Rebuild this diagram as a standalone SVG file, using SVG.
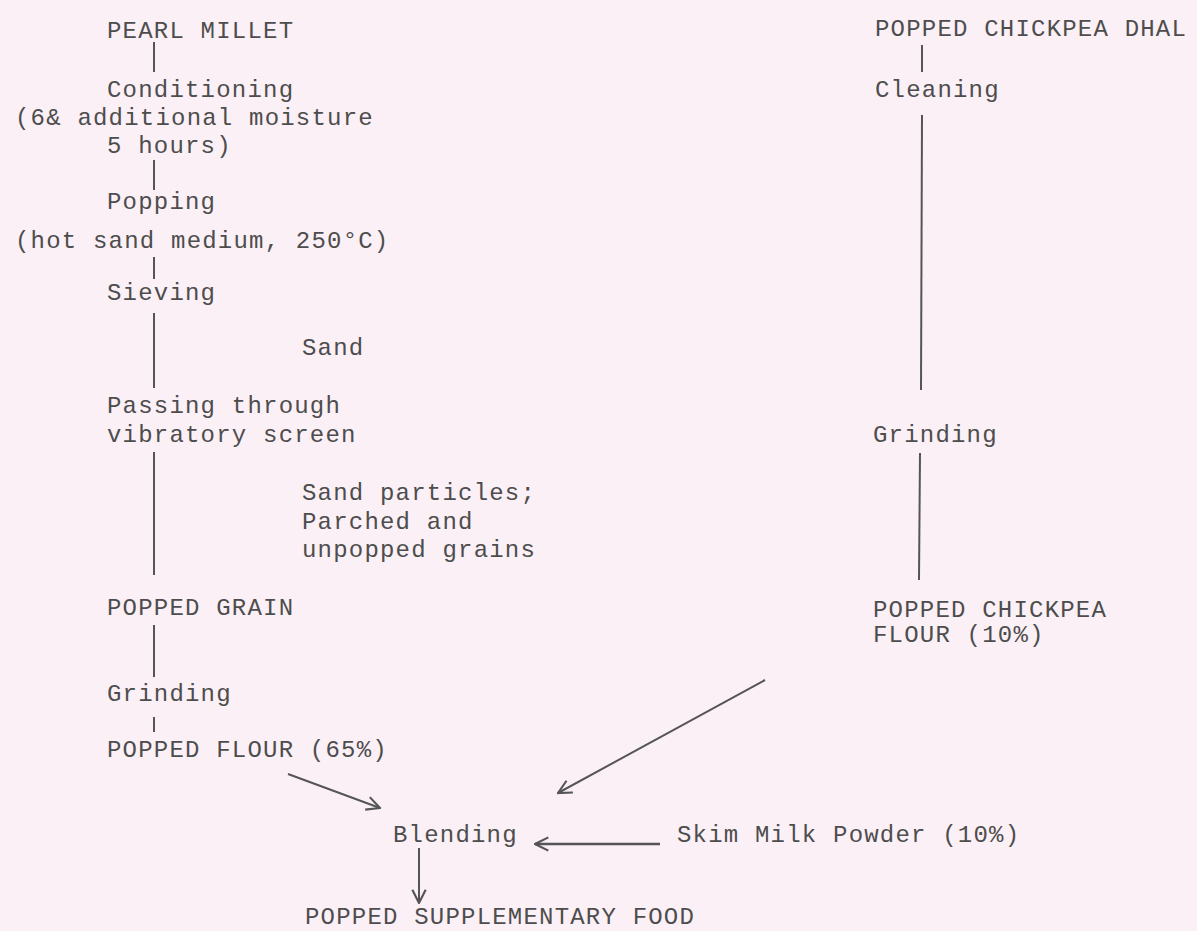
<svg xmlns="http://www.w3.org/2000/svg" width="1197" height="931" viewBox="0 0 1197 931">
<style>
text{font-family:"Liberation Mono","Courier New",monospace;font-size:24px;letter-spacing:1.2px;fill:#4d4d4d;}
.ln{stroke:#555;stroke-width:2;fill:none;}
.ar{stroke:#555;stroke-width:2;fill:none;marker-end:url(#ah);}
</style>
<defs>
<marker id="ah" viewBox="0 0 12 12" refX="11" refY="6" markerWidth="16" markerHeight="16" markerUnits="userSpaceOnUse" orient="auto">
<path d="M1,1 L11,6 L1,11" fill="none" stroke="#555" stroke-width="1.6"/>
</marker>
</defs>
<rect width="1197" height="931" fill="#fcf0f7"/>
<g id="connectors">
<line class="ln" x1="154" y1="42" x2="154" y2="72"/>
<line class="ln" x1="154" y1="160" x2="154" y2="190"/>
<line class="ln" x1="154" y1="257" x2="154" y2="279"/>
<line class="ln" x1="154" y1="313" x2="154" y2="388"/>
<line class="ln" x1="154" y1="452" x2="154" y2="575"/>
<line class="ln" x1="154" y1="625" x2="154" y2="677"/>
<line class="ln" x1="154" y1="717" x2="154" y2="732"/>
<line class="ln" x1="922" y1="45" x2="922" y2="72"/>
<line class="ln" x1="922" y1="115" x2="921" y2="390"/>
<line class="ln" x1="920" y1="453" x2="919" y2="580"/>
<line class="ar" x1="288" y1="774" x2="380" y2="808"/>
<line class="ar" x1="765" y1="680" x2="558" y2="793"/>
<line class="ar" x1="660" y1="844" x2="535" y2="844" style="stroke-width:2.6"/>
<line class="ar" x1="419" y1="848" x2="419" y2="903"/>
</g>
<g id="pearl-millet"><text x="107" y="38">PEARL MILLET</text></g>
<g id="conditioning"><text x="107" y="97">Conditioning</text><text x="15" y="125">(6&amp; additional moisture</text><text x="107" y="153">5 hours)</text></g>
<g id="popping"><text x="107" y="209">Popping</text><text x="15" y="248">(hot sand medium, 250°C)</text></g>
<g id="sieving"><text x="107" y="300">Sieving</text></g>
<g id="sand"><text x="302" y="355">Sand</text></g>
<g id="vibratory"><text x="107" y="413">Passing through</text><text x="107" y="442">vibratory screen</text></g>
<g id="rejects"><text x="302" y="500">Sand particles;</text><text x="302" y="529">Parched and</text><text x="302" y="557">unpopped grains</text></g>
<g id="popped-grain"><text x="107" y="615">POPPED GRAIN</text></g>
<g id="grinding-left"><text x="107" y="701">Grinding</text></g>
<g id="popped-flour"><text x="107" y="757">POPPED FLOUR (65%)</text></g>
<g id="blending"><text x="393" y="842">Blending</text></g>
<g id="skim-milk"><text x="677" y="842">Skim Milk Powder (10%)</text></g>
<g id="supplementary"><text x="305" y="924">POPPED SUPPLEMENTARY FOOD</text></g>
<g id="chickpea-dhal"><text x="875" y="36">POPPED CHICKPEA DHAL</text></g>
<g id="cleaning"><text x="875" y="97">Cleaning</text></g>
<g id="grinding-right"><text x="873" y="442">Grinding</text></g>
<g id="chickpea-flour"><text x="873" y="617">POPPED CHICKPEA</text><text x="873" y="642">FLOUR (10%)</text></g>
</svg>
